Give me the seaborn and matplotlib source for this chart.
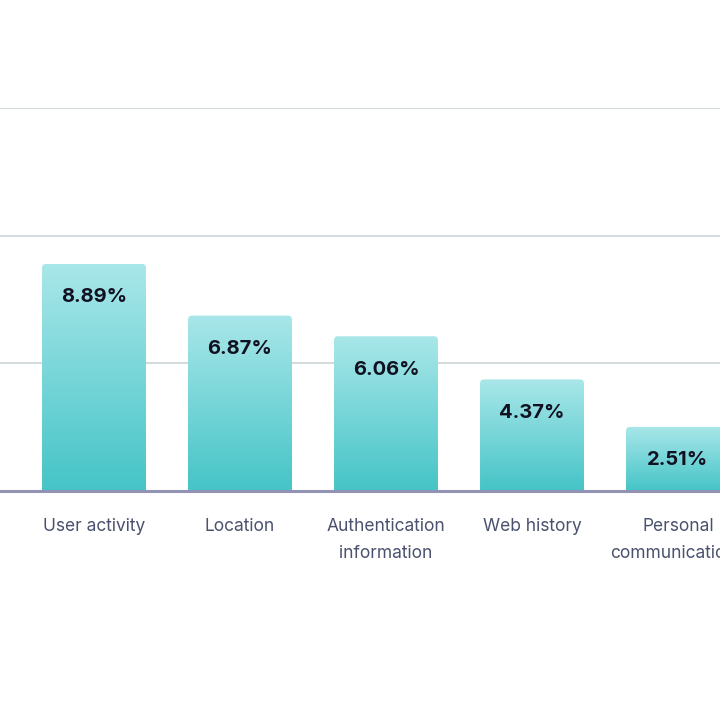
import matplotlib
matplotlib.use("Agg")
import matplotlib.pyplot as plt
import seaborn as sns
import numpy as np
import pandas as pd
from matplotlib.patches import FancyBboxPatch
from matplotlib.colors import LinearSegmentedColormap

categories = ["User activity", "Location", "Authentication\ninformation",
              "Web history", "Personal\ncommunications"]
values = [8.89, 6.87, 6.06, 4.37, 2.51]
value_labels = ["8.89%", "6.87%", "6.06%", "4.37%", "2.51%"]

sns.set_theme(style="white")
plt.rcParams['font.family'] = ['Inter', 'DejaVu Sans']

df = pd.DataFrame({"cat": categories, "val": values})

fig = plt.figure(figsize=(7.2, 7.2), dpi=100)
ax = fig.add_axes([0, (720 - 491) / 720, 1, (491 - 108) / 720])

sns.barplot(data=df, x="cat", y="val", ax=ax, width=0.712, color="#5fcfd2")

ax.set_ylim(0, 15)
ax.set_yticks([0, 5, 10, 15])
ax.yaxis.grid(True, color="#d3dadf", linewidth=1.4)
ax.set_axisbelow(True)
for s in ax.spines.values():
    s.set_visible(False)
ax.axhline(0, color="#9192b4", linewidth=2.2, zorder=5, clip_on=False)
ax.set_ylabel("")
ax.set_xlabel("")
ax.tick_params(axis="y", left=False, labelleft=False)
ax.tick_params(axis="x", bottom=False, pad=13.5)
for t in ax.get_xticklabels():
    t.set_color("#4a516e")
    t.set_fontsize(12.5)
    t.set_linespacing(1.75)
    t.set_verticalalignment("top")

cmap = LinearSegmentedColormap.from_list("g", ["#45c4c7", "#a9e7e9"])
grad = np.linspace(0, 1, 256).reshape(-1, 1)
xpp = 1 / 146
ypp = 15 / 383
for p in list(ax.patches):
    x0, w, h = p.get_x(), p.get_width(), p.get_height()
    p.set_visible(False)
    clip = FancyBboxPatch((x0, -0.3), w, h + 0.3,
                          boxstyle=f"round,pad=0,rounding_size={4 * xpp}",
                          mutation_aspect=ypp / xpp,
                          transform=ax.transData, facecolor="none", edgecolor="none")
    ax.add_patch(clip)
    im = ax.imshow(grad, cmap=cmap, aspect="auto", origin="lower",
                   extent=(x0, x0 + w, 0, h), zorder=2)
    im.set_clip_path(clip)

for i, (v, lab) in enumerate(zip(values, value_labels)):
    ax.annotate(lab, (i, v), xytext=(0, -24), textcoords="offset points",
                ha="center", va="center", fontsize=14.5, fontweight="bold",
                color="#111122", zorder=6)

ax.set_xlim(-94 / 146, (720 - 94) / 146)
fig.savefig("out.png", dpi=100, facecolor="white")
